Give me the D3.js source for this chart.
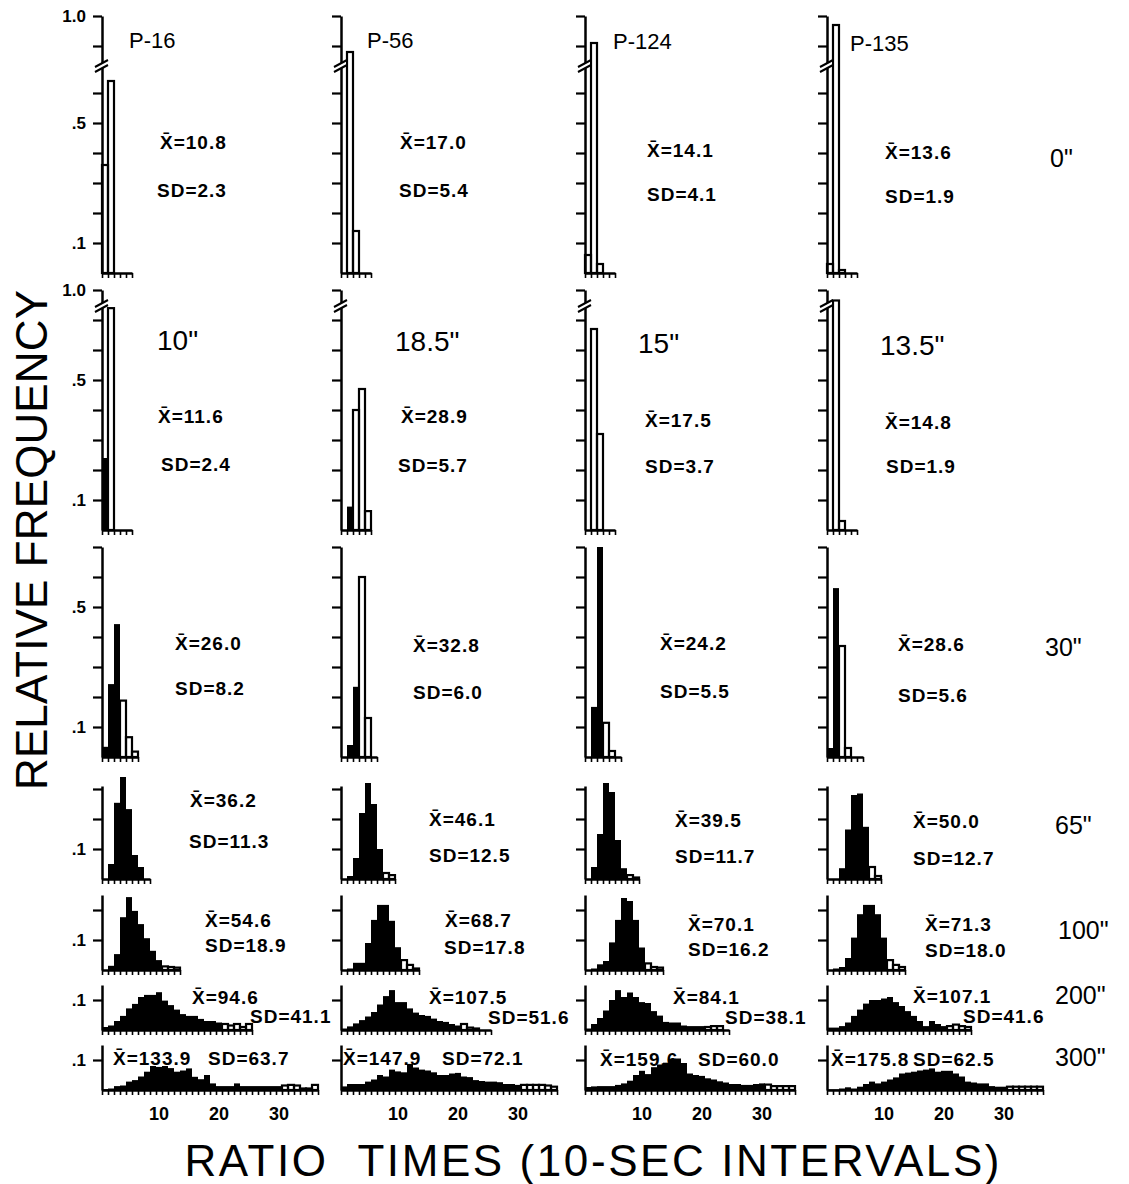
<!DOCTYPE html>
<html>
<head>
<meta charset="utf-8">
<script src="https://cdn.jsdelivr.net/npm/d3@7"></script>
<style>
  body { margin: 0; background: #fff; }
  svg { display: block; }
</style>
</head>
<body>
<svg id="chart" width="1129" height="1184"></svg>
<script>
// ---------------------------------------------------------------
// Relative frequency of ratio times (10-sec intervals) for four
// pigeons at increasing delay values. Dark bins = times shorter
// than the delay, open bins = longer ones.
// ---------------------------------------------------------------
const subjects = ["P-16", "P-56", "P-124", "P-135"];
const rowDelayLabels = ['0"', null, '30"', '65"', '100"', '200"', '300"'];
const titrationDelays = ['10"', '18.5"', '15"', '13.5"'];

const means = [
  [10.8, 17.0, 14.1, 13.6],
  [11.6, 28.9, 17.5, 14.8],
  [26.0, 32.8, 24.2, 28.6],
  [36.2, 46.1, 39.5, 50.0],
  [54.6, 68.7, 70.1, 71.3],
  [94.6, 107.5, 84.1, 107.1],
  [133.9, 147.9, 159.6, 175.8]
];
const sds = [
  [2.3, 5.4, 4.1, 1.9],
  [2.4, 5.7, 3.7, 1.9],
  [8.2, 6.0, 5.5, 5.6],
  [11.3, 12.5, 11.7, 12.7],
  [18.9, 17.8, 16.2, 18.0],
  [41.1, 51.6, 38.1, 41.6],
  [63.7, 72.1, 60.0, 62.5]
];

// relative frequency per 10-sec bin (bin 1 = 0-10 sec)
const freq0 = [
  [0.36, 0.64, 0, 0, 0],
  [0, 0.88, 0.14, 0, 0],
  [0.06, 0.91, 0.03, 0, 0],
  [0.03, 0.97, 0.01, 0, 0]
];
const freq10 = [
  [0.24, 0.93, 0, 0, 0],
  [0, 0.078, 0.40, 0.47, 0.063],
  [0, 0.67, 0.32, 0, 0],
  [0, 0.965, 0.03, 0, 0]
];
const freq30 = [
  [0.034, 0.243, 0.443, 0.188, 0.066, 0.018],
  [0, 0.04, 0.234, 0.60, 0.13, 0],
  [0, 0.167, 0.70, 0.114, 0.02, 0],
  [0.03, 0.563, 0.37, 0.03, 0, 0]
];
const freq65 = [
  [0, 0.05, 0.254, 0.34, 0.233, 0.08, 0.04, 0],
  [0, 0.01, 0.07, 0.22, 0.32, 0.25, 0.10, 0.02, 0.013],
  [0, 0.04, 0.15, 0.32, 0.29, 0.13, 0.036, 0.013, 0.005],
  [0, 0, 0.036, 0.165, 0.28, 0.285, 0.174, 0.04, 0.01]
];
const freq100 = [
  [0, 0.014, 0.053, 0.176, 0.243, 0.197, 0.153, 0.106, 0.064, 0.033, 0.012, 0.01, 0.008],
  [0, 0.005, 0.024, 0.024, 0.09, 0.167, 0.217, 0.217, 0.164, 0.076, 0.033, 0.017, 0.005],
  [0, 0.005, 0.019, 0.03, 0.092, 0.167, 0.24, 0.23, 0.167, 0.075, 0.022, 0.01, 0.008],
  [0, 0.005, 0.01, 0.04, 0.108, 0.186, 0.217, 0.217, 0.186, 0.108, 0.033, 0.017, 0.01]
];
const freq200 = [
  [0.01, 0.015, 0.03, 0.047, 0.072, 0.087, 0.11, 0.117, 0.117, 0.126, 0.098, 0.083, 0.068,
   0.053, 0.047, 0.047, 0.037, 0.03, 0.03, 0.025, 0.02, 0.015, 0.02, 0.01, 0.02],
  [0.005, 0.012, 0.022, 0.033, 0.045, 0.06, 0.085, 0.113, 0.133, 0.093, 0.093, 0.072, 0.058,
   0.05, 0.047, 0.038, 0.03, 0.027, 0.02, 0.015, 0.02, 0.008, 0.005, 0, 0],
  [0.005, 0.02, 0.04, 0.065, 0.1, 0.133, 0.11, 0.125, 0.11, 0.093, 0.09, 0.063, 0.048,
   0.027, 0.025, 0.025, 0.015, 0.013, 0.013, 0.013, 0.01, 0.013, 0.013, 0],
  [0.008, 0.008, 0.013, 0.025, 0.047, 0.068, 0.088, 0.1, 0.1, 0.105, 0.11, 0.093, 0.08,
   0.063, 0.047, 0.03, 0.013, 0.03, 0.02, 0.013, 0.013, 0.018, 0.013, 0.01]
];
const freq300 = [
  [0.003, 0.005, 0.013, 0.015, 0.028, 0.033, 0.045, 0.061, 0.08, 0.077, 0.08, 0.073, 0.061,
   0.065, 0.072, 0.044, 0.036, 0.05, 0.022, 0.013, 0.013, 0.013, 0.022, 0.013, 0.013, 0.013,
   0.013, 0.013, 0.013, 0.013, 0.015, 0.017, 0.015, 0.005, 0.005, 0.017],
  [0.012, 0.02, 0.02, 0.02, 0.028, 0.035, 0.05, 0.045, 0.068, 0.062, 0.059, 0.087, 0.075,
   0.068, 0.065, 0.059, 0.05, 0.05, 0.055, 0.057, 0.045, 0.043, 0.033, 0.03, 0.028, 0.028,
   0.026, 0.02, 0.02, 0.017, 0.017, 0.017, 0.017, 0.017, 0.015, 0.011],
  [0.01, 0.012, 0.013, 0.013, 0.013, 0.017, 0.022, 0.031, 0.05, 0.064, 0.053, 0.076, 0.085,
   0.091, 0.1, 0.105, 0.09, 0.055, 0.05, 0.047, 0.039, 0.035, 0.029, 0.025, 0.02, 0.02,
   0.017, 0.017, 0.02, 0.022, 0.018, 0.013, 0.013, 0.013, 0.013],
  [0.002, 0.002, 0.005, 0.009, 0.005, 0.011, 0.02, 0.028, 0.022, 0.028, 0.035, 0.042, 0.055,
   0.058, 0.061, 0.065, 0.068, 0.072, 0.061, 0.064, 0.064, 0.055, 0.045, 0.028, 0.025, 0.022,
   0.022, 0.013, 0.011, 0.011, 0.011, 0.011, 0.011, 0.011, 0.011, 0.011]
];

// number of leading bins drawn dark in each panel
const darkBins = [
  [0, 0, 0, 0],
  [1, 2, 0, 0],
  [3, 3, 3, 2],
  [7, 7, 7, 7],
  [10, 10, 10, 10],
  [20, 20, 20, 20],
  [30, 30, 30, 30]
];

const yTicks = [
  [0.1, 0.2, 0.3, 0.4, 0.5, 0.6, 0.9, 1.0],
  [0.1, 0.2, 0.3, 0.4, 0.5, 0.6, 0.7, 1.0],
  [0.1, 0.2, 0.3, 0.4, 0.5, 0.6, 0.7],
  [0.1, 0.2, 0.3],
  [0.1, 0.2],
  [0.1],
  [0.1]
];
const yTickLabels = [
  [1.0, 0.5, 0.1],
  [1.0, 0.5, 0.1],
  [0.5, 0.1],
  [0.1],
  [0.1],
  [0.1],
  [0.1]
];
const xTickLabels = [10, 20, 30];

// ---------------------------------------------------------------
// layout
// ---------------------------------------------------------------
const FONT = "'Liberation Sans', Arial, sans-serif";
const BIN_W = 6;
const colX = [102, 341, 585, 827];

// y scales per row: broken axes in the two top rows
const rowScales = [
  { dom: [0, 0.68, 0.84, 1.0], rng: [273, 69, 64, 16], brk: 66 },
  { dom: [0, 0.73, 0.94, 1.0], rng: [530, 311, 308, 290], brk: 306 },
  { dom: [0, 0.7], rng: [757, 547] },
  { dom: [0, 0.31], rng: [879, 786] },
  { dom: [0, 0.25], rng: [970, 895] },
  { dom: [0, 0.15], rng: [1030, 985] },
  { dom: [0, 0.15], rng: [1090, 1045] }
];
const freqRows = [freq0, freq10, freq30, freq65, freq100, freq200, freq300];

// [meanX, meanY, sdX, sdY] text anchors per panel
const statLayout = [
  [[160, 142, 157, 190], [400, 142, 399, 190], [647, 150, 647, 194], [885, 152, 885, 196]],
  [[158, 416, 161, 464], [401, 416, 398, 465], [645, 420, 645, 466], [885, 422, 886, 466]],
  [[175, 643, 175, 688], [413, 645, 413, 692], [660, 643, 660, 691], [898, 644, 898, 695]],
  [[190, 800, 189, 841], [429, 819, 429, 855], [675, 820, 675, 856], [913, 821, 913, 858]],
  [[205, 920, 205, 945], [445, 920, 444, 947], [688, 924, 688, 949], [925, 924, 925, 950]],
  [[192, 997, 250, 1016], [429, 997, 488, 1017], [673, 997, 725, 1017], [913, 996, 963, 1016]],
  [[113, 1058, 208, 1058], [343, 1058, 442, 1058], [600, 1059, 698, 1059], [831, 1059, 913, 1059]]
];
const titlePos = [[129, 40], [367, 40], [613, 41], [850, 43]];
const titrationPos = [[157, 340], [395, 341], [638, 343], [880, 345]];
const rowLabelPos = [[1050, 158], null, [1045, 647], [1055, 825], [1058, 930], [1055, 995], [1055, 1057]];

const svg = d3.select("#chart");
svg.append("rect").attr("width", 1129).attr("height", 1184).attr("fill", "#fff");

freqRows.forEach((rowFreq, r) => {
  const rs = rowScales[r];
  const y = d3.scaleLinear().domain(rs.dom).range(rs.rng);

  rowFreq.forEach((f, c) => {
    const ax = colX[c];
    const x = d3.scaleLinear().domain([0, f.length]).range([ax, ax + f.length * BIN_W]);
    const g = svg.append("g").attr("class", `panel r${r} c${c}`);

    const bins = f.map((v, i) => ({ i, v, dark: i < darkBins[r][c] })).filter(d => d.v > 0);

    g.selectAll("rect.dark")
      .data(bins.filter(d => d.dark))
      .join("rect")
      .attr("class", "dark")
      .attr("x", d => x(d.i))
      .attr("width", d => x(d.i + 1) - x(d.i))
      .attr("y", d => y(d.v))
      .attr("height", d => y(0) - y(d.v))
      .attr("fill", "#000");

    g.selectAll("rect.open")
      .data(bins.filter(d => !d.dark))
      .join("rect")
      .attr("class", "open")
      .attr("x", d => x(d.i))
      .attr("width", d => x(d.i + 1) - x(d.i))
      .attr("y", d => y(d.v))
      .attr("height", d => y(0) - y(d.v))
      .attr("fill", "none")
      .attr("stroke", "#000")
      .attr("stroke-width", 2.2);

    // x axis: comb of bin ticks
    const xAxis = d3.axisBottom(x)
      .tickValues(d3.range(0, f.length + 1))
      .tickSize(5).tickSizeOuter(0).tickFormat("");
    const gx = g.append("g").attr("transform", `translate(0,${y(0)})`).call(xAxis);
    gx.select(".domain").attr("stroke-width", 2.5);
    gx.selectAll(".tick line").attr("stroke-width", 1.6);

    // y axis
    const yAxis = d3.axisLeft(y)
      .tickValues(yTicks[r])
      .tickSize(9).tickSizeOuter(0).tickFormat("");
    const gy = g.append("g").attr("transform", `translate(${ax},0)`).call(yAxis);
    gy.select(".domain").attr("stroke-width", 2.5);
    gy.selectAll(".tick line").attr("stroke-width", 2.2);

    // axis break symbol
    if (rs.brk) {
      const b = rs.brk;
      g.append("path")
        .attr("d", `M${ax - 6},${b + 1} L${ax + 5},${b - 5} L${ax + 5},${b} L${ax - 6},${b + 6} Z`)
        .attr("fill", "#fff");
      g.append("path")
        .attr("d", `M${ax - 7},${b + 1} L${ax + 6},${b - 6} M${ax - 7},${b + 6} L${ax + 6},${b - 1}`)
        .attr("stroke", "#000").attr("stroke-width", 2).attr("fill", "none");
    }

    // y tick labels on the first column only
    if (c === 0) {
      g.selectAll("text.ylab")
        .data(yTickLabels[r])
        .join("text")
        .attr("class", "ylab")
        .attr("x", ax - 16)
        .attr("y", d => y(d))
        .attr("text-anchor", "end")
        .attr("dominant-baseline", "central")
        .attr("font-family", FONT)
        .attr("font-weight", "bold")
        .attr("font-size", 17)
        .text(d => d === 1 ? "1.0" : "." + Math.round(d * 10));
    }

    // x tick labels under the bottom row
    if (r === freqRows.length - 1) {
      g.selectAll("text.xlab")
        .data(xTickLabels)
        .join("text")
        .attr("class", "xlab")
        .attr("x", d => x(d - 0.5))
        .attr("y", y(0) + 24)
        .attr("text-anchor", "middle")
        .attr("dominant-baseline", "central")
        .attr("font-family", FONT)
        .attr("font-weight", "bold")
        .attr("font-size", 18)
        .text(d => d);
    }

    // mean and SD annotations
    const [mx, my, sx, sy] = statLayout[r][c];
    g.append("text")
      .attr("x", mx).attr("y", my)
      .attr("dominant-baseline", "central")
      .attr("font-family", FONT).attr("font-weight", "bold")
      .attr("font-size", 19).attr("letter-spacing", 1)
      .text("X\u0304=" + means[r][c].toFixed(1));
    g.append("text")
      .attr("x", sx).attr("y", sy)
      .attr("dominant-baseline", "central")
      .attr("font-family", FONT).attr("font-weight", "bold")
      .attr("font-size", 19).attr("letter-spacing", 1)
      .text("SD=" + sds[r][c].toFixed(1));
  });
});

// subject titles
svg.selectAll("text.subject")
  .data(subjects)
  .join("text")
  .attr("class", "subject")
  .attr("x", (d, i) => titlePos[i][0])
  .attr("y", (d, i) => titlePos[i][1])
  .attr("dominant-baseline", "central")
  .attr("font-family", FONT)
  .attr("font-size", 22)
  .text(d => d);

// titrated delays shown inside the second row
svg.selectAll("text.titration")
  .data(titrationDelays)
  .join("text")
  .attr("class", "titration")
  .attr("x", (d, i) => titrationPos[i][0])
  .attr("y", (d, i) => titrationPos[i][1])
  .attr("dominant-baseline", "central")
  .attr("font-family", FONT)
  .attr("font-size", 28)
  .text(d => d);

// delay labels on the right
svg.selectAll("text.rowlab")
  .data(rowDelayLabels.map((d, i) => ({ d, i })).filter(o => o.d))
  .join("text")
  .attr("class", "rowlab")
  .attr("x", o => rowLabelPos[o.i][0])
  .attr("y", o => rowLabelPos[o.i][1])
  .attr("dominant-baseline", "central")
  .attr("font-family", FONT)
  .attr("font-size", 25)
  .text(o => o.d);

// axis titles
svg.append("text")
  .attr("transform", "translate(31,540) rotate(-90)")
  .attr("text-anchor", "middle")
  .attr("dominant-baseline", "central")
  .attr("font-family", FONT)
  .attr("font-size", 44)
  .attr("textLength", 500)
  .attr("lengthAdjust", "spacing")
  .text("RELATIVE FREQUENCY");

svg.append("text")
  .attr("x", 592).attr("y", 1160)
  .attr("text-anchor", "middle")
  .attr("dominant-baseline", "central")
  .attr("font-family", FONT)
  .attr("font-size", 44)
  .attr("textLength", 815)
  .attr("lengthAdjust", "spacing")
  .attr("xml:space", "preserve")
  .text("RATIO  TIMES (10-SEC INTERVALS)");
</script>
</body>
</html>
